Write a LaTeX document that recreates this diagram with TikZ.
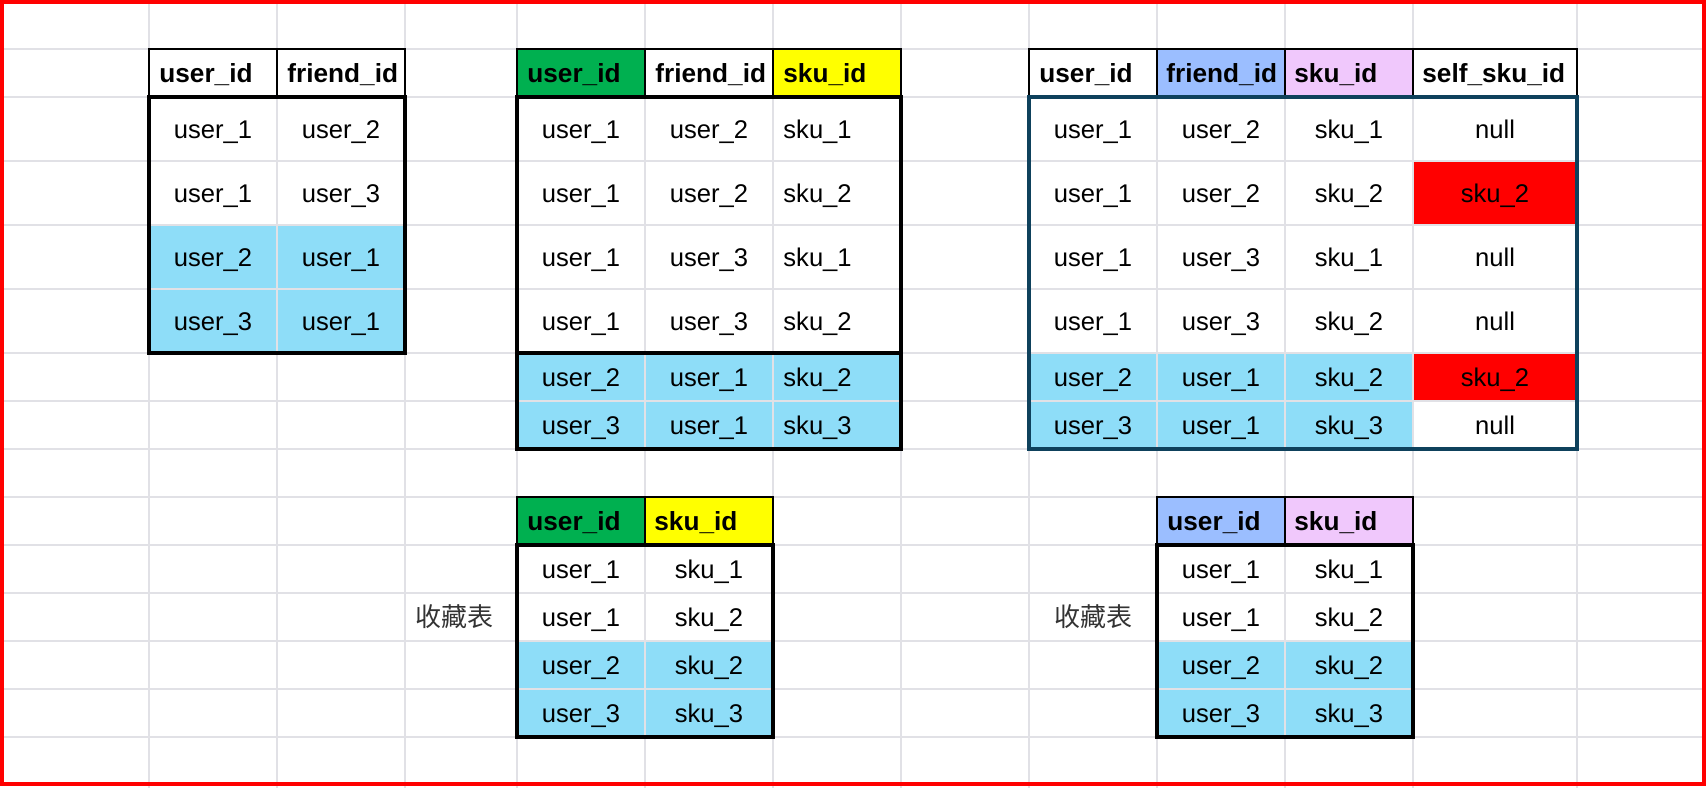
\documentclass[tikz,border=0pt]{standalone}
\usepackage{fontspec}
\setmainfont{Liberation Sans}
\newfontfamily\cjkfont{Noto Sans CJK SC}

\definecolor{gridgray}{RGB}{225,225,230}
\definecolor{rowblue}{RGB}{142,221,248}
\definecolor{hdgreen}{RGB}{0,176,80}
\definecolor{hdyellow}{RGB}{255,255,0}
\definecolor{hdblue}{RGB}{155,190,255}
\definecolor{hdpink}{RGB}{240,200,252}
\definecolor{hitred}{RGB}{255,0,0}
\definecolor{joinframe}{RGB}{14,65,92}
\definecolor{labelgray}{RGB}{51,51,51}

\begin{document}
\begin{tikzpicture}[x=0.5pt,y=-0.5pt,
    gridline/.style ={draw=gridgray, line width=1pt},
    headcell/.style ={draw=black, line width=1pt},
    dataframe/.style={draw=black, line width=2pt},
    head/.style     ={anchor=base west, inner sep=0pt, font=\fontsize{13.1}{15}\selectfont\bfseries},
    val/.style      ={anchor=base, inner sep=0pt, font=\fontsize{12.8}{15}\selectfont},
    valleft/.style  ={val, anchor=base west},
    tablename/.style={inner sep=0pt, text=labelgray, font=\fontsize{13}{15}\selectfont\cjkfont}]
   \useasboundingbox (0,0) rectangle (1706,788);
   \fill[white] (0,0) rectangle (1706,788);

   % fills
   \fill[rowblue] (149,225) rectangle (405,353);
   \fill[rowblue] (517,353) rectangle (901,449);
   \fill[rowblue] (1029,353) rectangle (1413,449);
   \fill[hitred] (1413,161) rectangle (1577,225);
   \fill[hitred] (1413,353) rectangle (1577,401);
   \fill[rowblue] (517,641) rectangle (773,737);
   \fill[rowblue] (1157,641) rectangle (1413,737);

   % sheet grid
   \foreach \x in {149,277,405,517,645,773,901,1029,1157,1285,1413,1577}
      \draw[gridline] (\x,0) -- (\x,788);
   \foreach \y in {49,97,161,225,289,353,401,449,497,545,593,641,689,737}
      \draw[gridline] (0,\y) -- (1706,\y);

   % header cells
   \foreach \x/\c in {149/white,277/white,517/hdgreen,645/white,773/hdyellow,
                      1029/white,1157/hdblue,1285/hdpink}
      \draw[headcell, fill=\c] (\x,49) rectangle ++(128,48);
   \draw[headcell] (1413,49) rectangle (1577,97);
   \foreach \x/\c in {517/hdgreen,645/hdyellow,1157/hdblue,1285/hdpink}
      \draw[headcell, fill=\c] (\x,497) rectangle ++(128,48);

   % data frames
   \draw[dataframe] (149,97) rectangle (405,353);
   \draw[dataframe] (517,97) rectangle (901,353);
   \draw[dataframe] (517,353) rectangle (901,449);
   \draw[dataframe, draw=joinframe] (1029,97) rectangle (1577,449);
   \draw[dataframe] (517,545) rectangle (773,737);
   \draw[dataframe] (1157,545) rectangle (1413,737);

   % page border
   \draw[hitred, line width=2pt] (2,2) rectangle (1704,784);

   % friends table
   \node[head] (fh1) at (159,82) {user\_id};
   \node[head] (fh2) at (287,82) {friend\_id};
   \foreach \u/\f [count=\r] in {user\_1/user\_2, user\_1/user\_3, user\_2/user\_1, user\_3/user\_1} {
      \node[val] (fu\r) at (213,74+64*\r) {\u};
      \node[val] (ff\r) at (341,74+64*\r) {\f};
   }

   % joined table
   \node[head] (jh1) at (527,82) {user\_id};
   \node[head] (jh2) at (655,82) {friend\_id};
   \node[head] (jh3) at (783,82) {sku\_id};
   \foreach \y/\u/\f/\s [count=\r] in {138/user\_1/user\_2/sku\_1, 202/user\_1/user\_2/sku\_2,
        266/user\_1/user\_3/sku\_1, 330/user\_1/user\_3/sku\_2,
        386/user\_2/user\_1/sku\_2, 434/user\_3/user\_1/sku\_3} {
      \node[val] (ju\r) at (581,\y) {\u};
      \node[val] (jf\r) at (709,\y) {\f};
      \node[valleft] (js\r) at (783,\y) {\s};
   }

   % result table
   \node[head] (rh1) at (1039,82) {user\_id};
   \node[head] (rh2) at (1166,82) {friend\_id};
   \node[head] (rh3) at (1294,82) {sku\_id};
   \node[head] (rh4) at (1422,82) {self\_sku\_id};
   \foreach \y/\u/\f/\s/\m [count=\r] in {138/user\_1/user\_2/sku\_1/null, 202/user\_1/user\_2/sku\_2/sku\_2,
        266/user\_1/user\_3/sku\_1/null, 330/user\_1/user\_3/sku\_2/null,
        386/user\_2/user\_1/sku\_2/sku\_2, 434/user\_3/user\_1/sku\_3/null} {
      \node[val] (ru\r) at (1093,\y) {\u};
      \node[val] (rf\r) at (1221,\y) {\f};
      \node[val] (rs\r) at (1349,\y) {\s};
      \node[val] (rm\r) at (1495,\y) {\m};
   }

   % favourites tables
   \node[tablename] (fav1) at (454,617) {收藏表};
   \node[head] (ah1) at (527,530) {user\_id};
   \node[head] (ah2) at (654,530) {sku\_id};
   \node[tablename] (fav2) at (1093,617) {收藏表};
   \node[head] (bh1) at (1167,530) {user\_id};
   \node[head] (bh2) at (1294,530) {sku\_id};
   \foreach \u/\s [count=\r] in {user\_1/sku\_1, user\_1/sku\_2, user\_2/sku\_2, user\_3/sku\_3} {
      \node[val] (au\r) at (581,530+48*\r) {\u};
      \node[val] (as\r) at (709,530+48*\r) {\s};
      \node[val] (bu\r) at (1221,530+48*\r) {\u};
      \node[val] (bs\r) at (1349,530+48*\r) {\s};
   }
\end{tikzpicture}
\end{document}
